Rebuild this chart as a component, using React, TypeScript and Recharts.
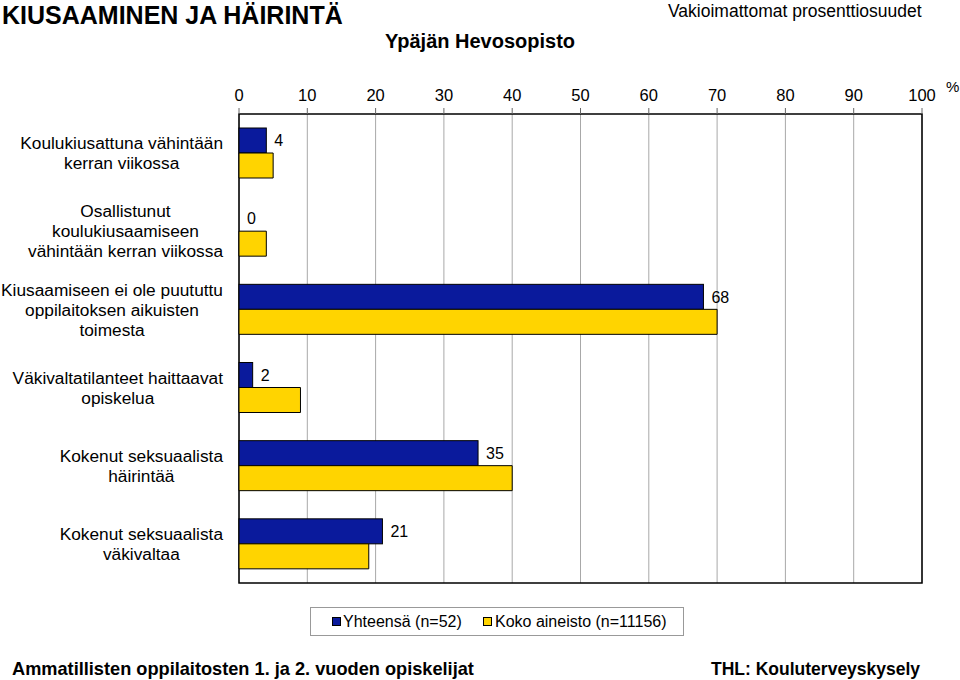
import React from 'react';
import { BarChart, Bar, XAxis, YAxis, CartesianGrid, ReferenceArea } from 'recharts';

// categories, wrapped the same way as in the original chart
const categories = [
  'Koulukiusattuna vähintään\nkerran viikossa',
  'Osallistunut\nkoulukiusaamiseen\nvähintään kerran viikossa',
  'Kiusaamiseen ei ole puututtu\noppilaitoksen aikuisten\ntoimesta',
  'Väkivaltatilanteet haittaavat\nopiskelua',
  'Kokenut seksuaalista\nhäirintää',
  'Kokenut seksuaalista\nväkivaltaa',
];
const schoolValues = [4, 0, 68, 2, 35, 21];
const allValues = [5, 4, 70, 9, 40, 19];
const xTicks = [0, 10, 20, 30, 40, 50, 60, 70, 80, 90, 100];
const seriesNames = ['Yhteensä (n=52)', 'Koko aineisto (n=11156)'];
const seriesColors = ['#0a1a9c', '#ffd400'];

const data = categories.map((name, i) => ({ name, school: schoolValues[i], all: allValues[i] }));

const FONT = '"Liberation Sans", Arial, sans-serif';

let ctx: CanvasRenderingContext2D | null = null;
const textWidth = (s: string, size: number) => {
  if (!ctx) ctx = document.createElement('canvas').getContext('2d');
  if (!ctx) return s.length * size * 0.5;
  ctx.font = `${size}px "Liberation Sans", Arial`;
  return ctx.measureText(s).width;
};

// multi-line label: block right aligned, lines centered inside it
const CategoryTick = (props: any) => {
  const { x, y, payload } = props;
  const lines = String(payload.value).split('\n');
  const w = Math.max(...lines.map((l) => textWidth(l, 17.3)));
  const cx = x - w / 2;
  const y0 = y - (lines.length - 1) * 10;
  return (
    <text x={cx} y={y0} textAnchor="middle" fontSize={17.3} fontFamily={FONT} fill="#000">
      {lines.map((l, i) => (
        <tspan key={i} x={cx} y={y0 + i * 20} dy="0.36em">{l}</tspan>
      ))}
    </text>
  );
};

// bar + its value label (the label is drawn for zero-length bars too)
const LabelledBar = (p: any) => {
  const x = Number(p.x);
  const y = Number(p.y);
  const w = Math.max(0, Number(p.width) || 0);
  const h = Number(p.height);
  const v = p.payload ? p.payload.school : p.value;
  return (
    <g>
      {w > 0 && <rect x={x} y={y} width={w} height={h} fill={p.fill} stroke="#000" strokeWidth={1} />}
      <text x={x + w + 8} y={y + h / 2} dy="0.36em" fontSize={16} fontFamily={FONT} fill="#000">{v}</text>
    </g>
  );
};

export default function App() {
  return (
    <div style={{ position: 'absolute', left: 0, top: 0, width: 960, height: 680, background: '#fff', fontFamily: FONT }}>
      <BarChart
        width={960}
        height={680}
        data={data}
        layout="vertical"
        barGap={0}
        margin={{ top: 84, right: 38, bottom: 97, left: 0 }}
      >
        <CartesianGrid horizontal={false} stroke="#a8a8a8" />
        <XAxis
          type="number"
          orientation="top"
          domain={[0, 100]}
          ticks={xTicks}
          interval={0}
          height={30}
          axisLine={false}
          tickLine={{ stroke: '#666' }}
          tickSize={6}
          tickMargin={7}
          tick={{ fill: '#000', fontSize: 16.5, fontFamily: FONT }}
        />
        <YAxis
          type="category"
          dataKey="name"
          width={239}
          interval={0}
          axisLine={false}
          tickLine={false}
          tickSize={0}
          tickMargin={16}
          tick={(p: any) => <CategoryTick {...p} />}
        />
        <Bar
          dataKey="school"
          name={seriesNames[0]}
          fill={seriesColors[0]}
          barSize={25}
          isAnimationActive={false}
          shape={(p: any) => <LabelledBar {...p} />}
        />
        <Bar dataKey="all" name={seriesNames[1]} fill={seriesColors[1]} stroke="#000" strokeWidth={1} barSize={25} isAnimationActive={false} />
        <ReferenceArea x1={0} x2={100} fill="none" fillOpacity={0} stroke="#000" strokeWidth={1.5} />
      </BarChart>

      <svg width={960} height={680} style={{ position: 'absolute', left: 0, top: 0, pointerEvents: 'none' }} fontFamily={FONT}>
        <text x={2} y={24} fontSize={25} fontWeight="bold">KIUSAAMINEN JA HÄIRINTÄ</text>
        <text x={385} y={48} fontSize={20} fontWeight="bold">Ypäjän Hevosopisto</text>
        <text x={668} y={17} fontSize={17.5}>Vakioimattomat prosenttiosuudet</text>
        <text x={946} y={92} fontSize={15}>%</text>

        <rect x={310.5} y={607.5} width={373} height={28} fill="#fff" stroke="#999" />
        <rect x={332.5} y={617.5} width={8} height={8} fill={seriesColors[0]} stroke="#000" />
        <text x={343} y={627} fontSize={16}>{seriesNames[0]}</text>
        <rect x={483.5} y={617.5} width={8} height={8} fill={seriesColors[1]} stroke="#000" />
        <text x={495} y={627} fontSize={16}>{seriesNames[1]}</text>

        <text x={12} y={675} fontSize={18.2} fontWeight="bold">Ammatillisten oppilaitosten 1. ja 2. vuoden opiskelijat</text>
        <text x={711} y={675} fontSize={17.5} fontWeight="bold">THL: Kouluterveyskysely</text>
      </svg>
    </div>
  );
}
